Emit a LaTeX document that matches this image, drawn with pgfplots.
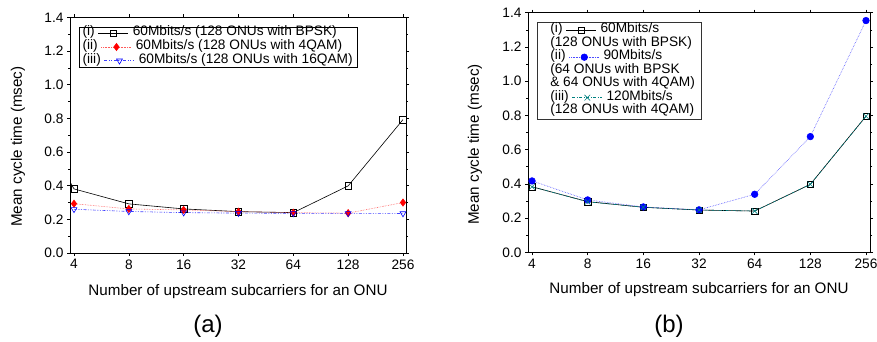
\documentclass[border=0pt]{standalone}
\usepackage{fontspec}
\setmainfont{Liberation Sans}
\usepackage{pgfplots}
\pgfplotsset{compat=1.18}
\definecolor{tealc}{RGB}{0,128,128}
\newcommand{\fs}{\fontsize{13.7}{16}\selectfont}
\newcommand{\fl}{\fontsize{15.2}{18}\selectfont}
\newlength\lA \newlength\lB \newlength\lC \newlength\lD
\tikzset{lgtext/.style={anchor=west, inner sep=0pt, text height=0.72em, text depth=0.22em, font=\fs, text=black},
  leg/.style n args={4}{}, cont/.style 2 args={}}
\pgfplotsset{
  myaxis/.style={
    scale only axis, anchor=south west,
    ymin=0, ymax=1.4,
    xtick={0,1,2,3,4,5,6}, xticklabels={4,8,16,32,64,128,256},
    ytick={0,0.2,0.4,0.6,0.8,1.0,1.2,1.4},
    minor y tick num=1,
    tick align=outside,
    major tick length=3pt, minor tick length=2pt,
    axis line style={line width=0.6pt},
    every tick/.style={black, line width=0.6pt},
    tick label style={font=\fs},
    /pgf/number format/assume math mode=true,
    yticklabel style={/pgf/number format/.cd, fixed, fixed zerofill, precision=1},
    xlabel={Number of upstream subcarriers for an ONU},
    ylabel={Mean cycle time (msec)},
    legend cell align=left,
  },
  leg/.style n args={4}{legend image code/.code={
      \setlength{\lA}{\dimexpr #3+#4+4pt\relax}%
      \setlength{\lB}{\dimexpr\lA+15pt\relax}%
      \setlength{\lC}{\dimexpr\lA+30pt\relax}%
      \setlength{\lD}{\dimexpr\lA+34pt\relax}%
      \path[draw=none] (0,0);
      \node[lgtext] at (#3,0) {#1};
      \draw[mark repeat=2,mark phase=2,##1] plot coordinates {(\lA,0) (\lB,0) (\lC,0)};
      \node[lgtext] at (\lD,0) {#2};
  }},
  cont/.style 2 args={legend image code/.code={
      \path[draw=none] (0,0);
      \node[lgtext] at (#2,0) {#1};
  }},
}
\begin{document}
\begin{tikzpicture}
\useasboundingbox (0,0) rectangle (877pt,342pt);
% ---------------- (a)
\begin{axis}[myaxis,
  at={(70pt,89pt)}, width=336pt, height=235.5pt,
  xmin=-0.073, xmax=6.055,
  x label style={at={(axis description cs:0.5,-0.163)}, anchor=center, font=\fl},
  y label style={at={(axis description cs:-0.155,0.452)}, anchor=center, font=\fl},
  legend style={at={(axis description cs:0.027,0.96)}, anchor=north west, draw=black,
    inner xsep=3pt, inner ysep=1.5pt, row sep=4.3pt, nodes={inner sep=0pt, text depth=0pt}},
]
\addplot[black, line width=0.6pt, no marks, forget plot] coordinates {(-1,0.95) (0,0.381)};
\addplot[black, line width=0.6pt, mark=square, mark size=3.2pt, mark options={solid, fill=white},
  leg={(i)}{60Mbits/s (128 ONUs with BPSK)}{0pt}{12.2pt}]
  coordinates {(0,0.381) (1,0.292) (2,0.262) (3,0.246) (4,0.240) (5,0.399) (6,0.793)};
\addlegendentry{}
\addplot[red!65, line width=0.6pt, densely dotted, mark=diamond*, mark size=3.6pt,
  mark options={solid, red, fill=red},
  leg={(ii)}{60Mbits/s (128 ONUs with 4QAM)}{0pt}{15.2pt}]
  coordinates {(0,0.293) (1,0.262) (2,0.256) (3,0.246) (4,0.240) (5,0.237) (6,0.300)};
\addlegendentry{}
\addplot[blue!75, line width=0.6pt, dash pattern=on 3pt off 1.5pt on 1pt off 1.5pt on 1pt off 1.5pt,
  mark=triangle, mark size=3.4pt, mark options={solid, blue, fill=white, rotate=180},
  leg={(iii)}{60Mbits/s (128 ONUs with 16QAM)}{0pt}{18.2pt}]
  coordinates {(0,0.260) (1,0.247) (2,0.240) (3,0.237) (4,0.236) (5,0.236) (6,0.235)};
\addlegendentry{}
\end{axis}
% ---------------- (b)
\begin{axis}[myaxis,
  at={(528pt,89.7pt)}, width=342pt, height=239.6pt,
  xmin=-0.072, xmax=6.072,
  x label style={at={(axis description cs:0.5,-0.155)}, anchor=center, font=\fl},
  y label style={at={(axis description cs:-0.155,0.45)}, anchor=center, font=\fl},
  legend style={at={(axis description cs:0.026,0.962)}, anchor=north west, draw=black!80,
    inner xsep=5pt, inner ysep=3.5pt, row sep=4.1pt, nodes={inner sep=0pt, text depth=0pt}},
]
\addplot[black, line width=0.6pt, mark=square, mark size=3.2pt, mark options={solid, fill=white},
  leg={(i)}{60Mbits/s}{8pt}{12.2pt}]
  coordinates {(0,0.383) (1,0.296) (2,0.263) (3,0.247) (4,0.241) (5,0.397) (6,0.795)};
\addlegendentry{}
\addlegendimage{cont={(128 ONUs with BPSK)}{8pt}}
\addlegendentry{}
\addplot[blue!70, line width=0.6pt, densely dotted, mark=*, mark size=3.3pt,
  mark options={solid, blue, fill=blue},
  leg={(ii)}{90Mbits/s}{8pt}{15.2pt}]
  coordinates {(0,0.417) (1,0.306) (2,0.265) (3,0.248) (4,0.339) (5,0.676) (6,1.354)};
\addlegendentry{}
\addlegendimage{cont={(64 ONUs with BPSK}{8pt}}
\addlegendentry{}
\addlegendimage{cont={\& 64 ONUs with 4QAM)}{8pt}}
\addlegendentry{}
\addplot[tealc, line width=0.6pt, dash pattern=on 3pt off 1.5pt on 1pt off 1.5pt,
  mark=x, mark size=4pt, mark options={solid, tealc},
  leg={(iii)}{120Mbits/s}{8pt}{18.2pt}]
  coordinates {(0,0.383) (1,0.295) (2,0.263) (3,0.247) (4,0.241) (5,0.397) (6,0.795)};
\addlegendentry{}
\addlegendimage{cont={(128 ONUs with 4QAM)}{8pt}}
\addlegendentry{}
\end{axis}
\node[font=\fontsize{24}{28}\selectfont] at (208pt,15.5pt) {(a)};
\node[font=\fontsize{24}{28}\selectfont] at (669pt,15.5pt) {(b)};
\end{tikzpicture}
\end{document}
